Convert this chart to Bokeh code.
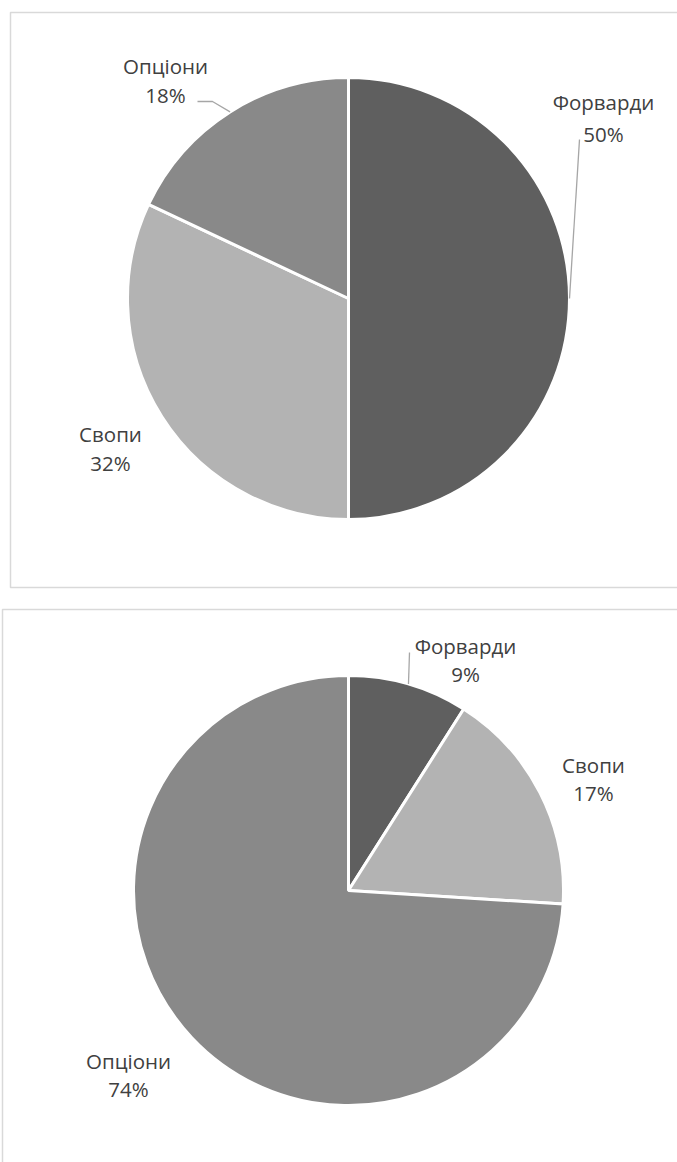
import math
from bokeh.plotting import figure
from bokeh.models import ColumnDataSource
from bokeh.core.properties import value
from bokeh.embed import file_html
from bokeh.resources import INLINE

# Shares of derivative types, two structures
categories = ["Форварди", "Свопи", "Опціони"]
shares_top = [50, 32, 18]
shares_bottom = [9, 17, 74]
colors = ["#5F5F5F", "#B3B3B3", "#898989"]

W, H = 677, 1162
FONT = "Open Sans"
FONT_SIZE = "20.5px"
TEXT_COLOR = "#404040"
LEADER_COLOR = "#A6A6A6"

p = figure(width=W, height=H, x_range=(0, W), y_range=(0, H),
           output_backend="svg", toolbar_location=None,
           min_border=0, outline_line_color=None)
p.axis.visible = False
p.grid.visible = False
p.background_fill_color = "white"
p.border_fill_color = "white"


def sy(y):
    # page-style y (down) to data y (up)
    return H - y


# chart frames
p.quad(left=[10, 2], right=[W + 5, W + 5], top=[sy(12), sy(609)], bottom=[sy(587), sy(1164)],
       fill_color=None, line_color="#D9D9D9", line_width=1.5)


def pie(cx, cy, r, shares, labels, leaders):
    total = sum(shares)
    starts, ends, mids = [], [], []
    cum = 0.0
    for s in shares:
        a0 = cum / total
        cum += s
        a1 = cum / total
        # clockwise from 12 o'clock
        starts.append(math.pi / 2 - 2 * math.pi * a1)
        ends.append(math.pi / 2 - 2 * math.pi * a0)
        mids.append((a0 + a1) / 2)
    src = ColumnDataSource(dict(start=starts, end=ends, color=colors))
    p.wedge(x=cx, y=sy(cy), radius=r, start_angle="start", end_angle="end",
            fill_color="color", line_color="white", line_width=3, source=src)

    for i, (lx, ly1, ly2) in enumerate(labels):
        p.text(x=[lx], y=[sy(ly1)], text=[categories[i]], text_align="center",
               text_baseline="middle", text_font=value(FONT), text_font_size=FONT_SIZE,
               text_color=TEXT_COLOR)
        p.text(x=[lx], y=[sy(ly2)], text=[f"{shares[i]}%"], text_align="center",
               text_baseline="middle", text_font=value(FONT), text_font_size=FONT_SIZE,
               text_color=TEXT_COLOR)

    for i, pts in leaders.items():
        m = mids[i]
        ex = cx + r * math.sin(2 * math.pi * m)
        ey = cy - r * math.cos(2 * math.pi * m)
        xs = [q[0] for q in pts] + [ex]
        ys = [sy(q[1]) for q in pts] + [sy(ey)]
        p.line(xs, ys, line_color=LEADER_COLOR, line_width=1.3)


pie(348, 298, 221, shares_top,
    labels=[(603, 101, 133), (110, 433, 462), (165, 65, 94)],
    leaders={0: [(579, 139)], 2: [(197, 101), (212, 101)]})

pie(348, 890, 215, shares_bottom,
    labels=[(465, 645, 673), (593, 764, 792), (128, 1060, 1088)],
    leaders={0: [(409, 652)]})

open("out.html", "w").write(file_html(p, INLINE))
